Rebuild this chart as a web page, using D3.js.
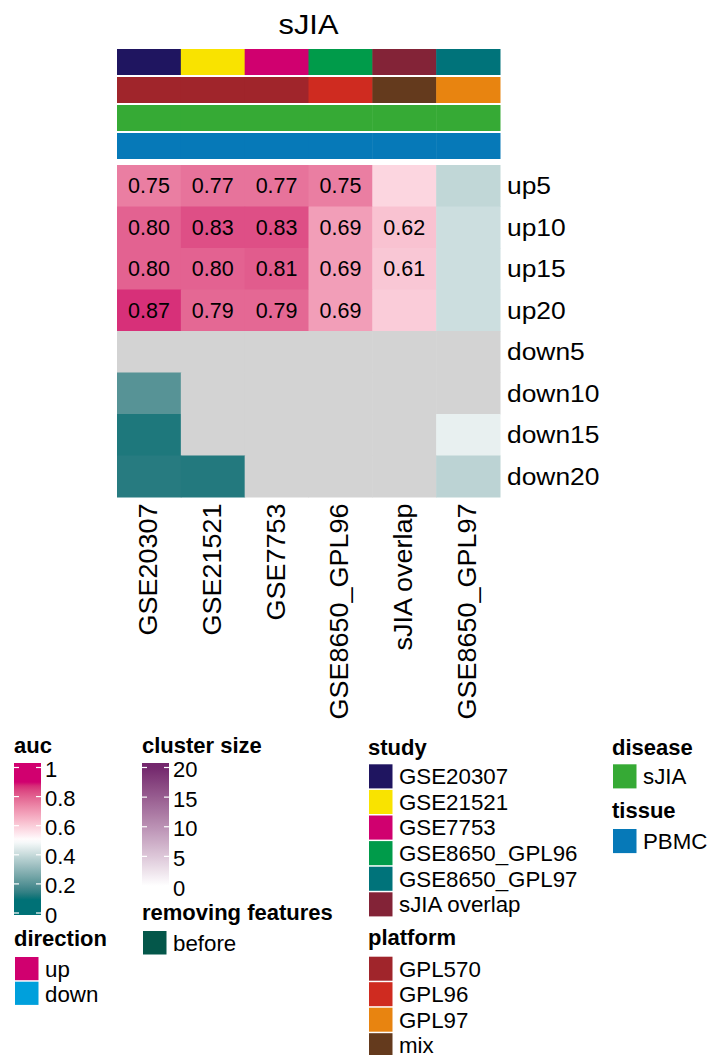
<!DOCTYPE html>
<html>
<head>
<meta charset="utf-8">
<script src="https://cdn.jsdelivr.net/npm/d3@7"></script>
<style>
  body { margin: 0; background: #fff; }
  text { font-family: "Liberation Sans", Arial, Helvetica, sans-serif; }
</style>
</head>
<body>
<div id="chart"></div>
<script>
// Heatmap data: AUC per gene set (rows) and study (columns); null = NA
const columns = ["GSE20307", "GSE21521", "GSE7753", "GSE8650_GPL96", "sJIA overlap", "GSE8650_GPL97"];
const rows = ["up5", "up10", "up15", "up20", "down5", "down10", "down15", "down20"];
const auc = [
    [0.75, 0.77, 0.77, 0.75, 0.58, 0.39],
    [0.80, 0.83, 0.83, 0.69, 0.62, 0.41],
    [0.80, 0.80, 0.81, 0.69, 0.61, 0.41],
    [0.87, 0.79, 0.79, 0.69, 0.60, 0.41],
    [null, null, null, null, null, null],
    [0.20, null, null, null, null, null],
    [0.12, null, null, null, null, 0.46],
    [0.13, 0.125, null, null, null, 0.38]
];
// which cells carry a printed value
const labelled = [
    [1, 1, 1, 1, 0, 0],
    [1, 1, 1, 1, 1, 0],
    [1, 1, 1, 1, 1, 0],
    [1, 1, 1, 1, 0, 0],
    [0, 0, 0, 0, 0, 0],
    [0, 0, 0, 0, 0, 0],
    [0, 0, 0, 0, 0, 0],
    [0, 0, 0, 0, 0, 0]
];

// Column annotations
const columnPlatform = ["GPL570", "GPL570", "GPL570", "GPL96", "mix", "GPL97"];
const columnDisease = ["sJIA", "sJIA", "sJIA", "sJIA", "sJIA", "sJIA"];
const columnTissue = ["PBMC", "PBMC", "PBMC", "PBMC", "PBMC", "PBMC"];

const studies = ["GSE20307", "GSE21521", "GSE7753", "GSE8650_GPL96", "GSE8650_GPL97", "sJIA overlap"];
const studyColors = ["#1f1560", "#f9e300", "#d0006f", "#009b4a", "#00737a", "#832337"];
const platforms = ["GPL570", "GPL96", "GPL97", "mix"];
const platformColors = ["#a0252b", "#cf2b20", "#e88410", "#643a1d"];
const diseases = ["sJIA"];
const diseaseColors = ["#36aa35"];
const tissues = ["PBMC"];
const tissueColors = ["#0679b8"];
const directions = ["up", "down"];
const directionColors = ["#d0006f", "#00a0dc"];
const removing = ["before"];
const removingColors = ["#04574a"];

const aucTicks = [0, 0.2, 0.4, 0.6, 0.8, 1];
const clusterTicks = [0, 5, 10, 15, 20];

const W = 710, H = 1055;
const svg = d3.select("#chart").append("svg")
    .attr("width", W)
    .attr("height", H);

const aucColor = d3.scaleLinear()
    .domain([0.1, 0.5, 0.9])
    .range(["#007176", "#ffffff", "#d1006f"])
    .interpolate(d3.interpolateLab)
    .clamp(true);
const clusterColor = d3.scaleLinear()
    .domain([0, 20])
    .range(["#ffffff", "#74276d"])
    .interpolate(d3.interpolateLab);

// stretched text helper (the original glyphs are a bit wider)
function label(g, x, y, str, size, opts = {}) {
    const s = opts.stretch || 1;
    const rot = opts.rotate ? " rotate(" + opts.rotate + ")" : "";
    return g.append("text")
        .attr("transform", "translate(" + x + "," + y + ")" + rot + " scale(" + s + ",1)")
        .attr("text-anchor", opts.anchor || "start")
        .style("font-size", size + "px")
        .style("font-weight", opts.bold ? "bold" : "normal")
        .attr("fill", "#000")
        .text(str);
}

// Heatmap body
const hm = { left: 117, right: 500, top: 165, bottom: 497 };
const x = d3.scaleBand().domain(columns).range([hm.left, hm.right]);
const y = d3.scaleBand().domain(rows).range([hm.top, hm.bottom]);

label(svg, (hm.left + hm.right) / 2, 34, "sJIA", 28, { anchor: "middle", stretch: 1.1 });

// annotation tracks
const tracks = [
    { values: columns, cats: studies, colors: studyColors, y0: 49 },
    { values: columnPlatform, cats: platforms, colors: platformColors, y0: 77 },
    { values: columnDisease, cats: diseases, colors: diseaseColors, y0: 105 },
    { values: columnTissue, cats: tissues, colors: tissueColors, y0: 133 }
];
tracks.forEach(t => {
    const col = d3.scaleOrdinal().domain(t.cats).range(t.colors);
    svg.append("g").selectAll("rect")
        .data(columns)
        .enter().append("rect")
        .attr("x", d => x(d))
        .attr("y", t.y0)
        .attr("width", x.bandwidth() + 0.5)
        .attr("height", 26)
        .attr("fill", (d, i) => col(t.values[i]));
});

const cells = [];
rows.forEach((r, i) => columns.forEach((c, j) => {
    cells.push({ row: r, col: c, v: auc[i][j], lab: labelled[i][j] });
}));

svg.append("g").selectAll("rect")
    .data(cells)
    .enter().append("rect")
    .attr("x", d => x(d.col))
    .attr("y", d => y(d.row))
    .attr("width", x.bandwidth() + 0.5)
    .attr("height", y.bandwidth() + 0.5)
    .attr("fill", d => d.v === null ? "#d3d3d3" : aucColor(d.v));

const cellText = svg.append("g");
cells.filter(d => d.lab).forEach(d => {
    label(cellText, x(d.col) + x.bandwidth() / 2, y(d.row) + y.bandwidth() / 2 + 7.7,
        d.v.toFixed(2), 21.5, { anchor: "middle" });
});

// row labels
rows.forEach(r => label(svg, 507, y(r) + y.bandwidth() / 2 + 8.5, r, 24, { stretch: 1.1 }));

// column labels
columns.forEach(c => label(svg, x(c) + x.bandwidth() / 2 + 8, 503.5, c, 25,
    { anchor: "end", rotate: -90, stretch: 1.08 }));

// ---- legends ----
const defs = svg.append("defs");
function colorBar(id, scale, ticks, x0, yTop, yBottom, tickTop, tickBottom, fmt) {
    const pos = d3.scaleLinear().domain(d3.extent(ticks)).range([tickBottom, tickTop]);
    const grad = defs.append("linearGradient").attr("id", id)
        .attr("x1", 0).attr("y1", 1).attr("x2", 0).attr("y2", 0);
    const lo = pos.invert(yBottom), hi = pos.invert(yTop);
    d3.range(0, 1.0001, 0.025).forEach(f => {
        grad.append("stop").attr("offset", f)
            .attr("stop-color", scale(Math.max(ticks[0], Math.min(ticks[ticks.length - 1], lo + f * (hi - lo)))));
    });
    svg.append("rect").attr("x", x0).attr("y", yTop)
        .attr("width", 27).attr("height", yBottom - yTop)
        .attr("fill", "url(#" + id + ")");
    ticks.forEach(t => {
        svg.append("line").attr("x1", x0).attr("x2", x0 + 5)
            .attr("y1", pos(t)).attr("y2", pos(t)).attr("stroke", "#fff").attr("stroke-width", 1.2);
        svg.append("line").attr("x1", x0 + 22).attr("x2", x0 + 27)
            .attr("y1", pos(t)).attr("y2", pos(t)).attr("stroke", "#fff").attr("stroke-width", 1.2);
        label(svg, x0 + 31, pos(t) + 9.5, fmt(t), 22);
    });
}

function discrete(title, cats, colors, x0, titleY, itemY, step) {
    label(svg, x0, titleY, title, 22, { bold: true });
    cats.forEach((c, i) => {
        svg.append("rect").attr("x", x0 + 1).attr("y", itemY + i * step)
            .attr("width", 23.5).attr("height", step - 1.5)
            .attr("fill", colors[i]);
        label(svg, x0 + 31, itemY + i * step + 19.8, c, 22.3);
    });
}

label(svg, 14, 753, "auc", 22, { bold: true });
colorBar("aucGrad", aucColor, aucTicks, 14, 763, 915, 767.5, 913, d => d === 0 || d === 1 ? String(d) : d.toFixed(1));

discrete("direction", directions, directionColors, 14, 946, 957, 24.7);

label(svg, 142, 753, "cluster size", 22, { bold: true });
colorBar("clusterGrad", clusterColor, clusterTicks, 142, 763, 889, 767.5, 886, d => String(d));

discrete("removing features", removing, removingColors, 142, 920, 931, 25);

discrete("study", studies, studyColors, 368, 755, 764.3, 25.6);
discrete("platform", platforms, platformColors, 368, 945, 956.7, 25.5);
discrete("disease", diseases, diseaseColors, 612, 755, 764.3, 25.6);
discrete("tissue", tissues, tissueColors, 612, 818, 829, 25.6);
</script>
</body>
</html>
